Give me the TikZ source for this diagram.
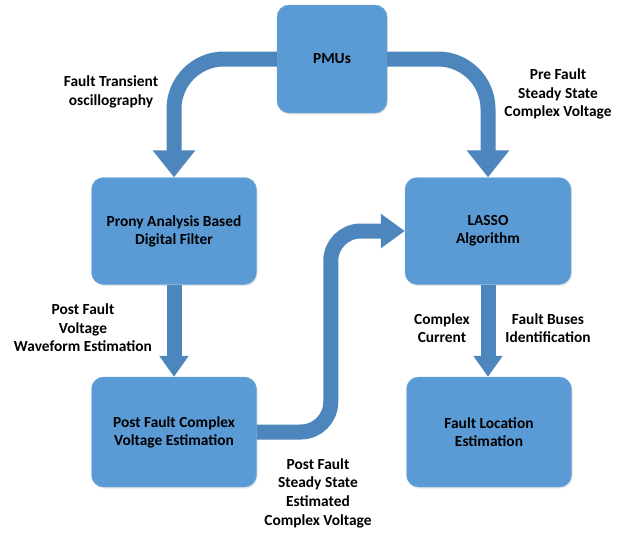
\documentclass[tikz,border=0pt]{standalone}
\usepackage{fontspec}
\setmainfont{Carlito}
\usetikzlibrary{arrows.meta,calc,shadows}
\definecolor{boxblue}{RGB}{91,155,213}
\definecolor{arrblue}{RGB}{77,134,188}

\begin{document}
\begin{tikzpicture}[x=1pt,y=1pt]
			\tikzstyle{bx} = [fill=boxblue, draw=boxblue!85!white, rounded corners=12pt, align=center, inner sep=0pt,
				font=\fontsize{15.4pt}{18pt}\selectfont\bfseries, drop shadow={opacity=0.18, shadow xshift=1pt, shadow yshift=-1.5pt}]
			\tikzstyle{lb} = [align=center, font=\fontsize{15.4pt}{18.6pt}\selectfont\bfseries]
			\tikzstyle{es} = [arrblue, line width=15pt, -{Triangle[width=41pt,length=27pt]}]
			\tikzstyle{ec} = [arrblue, line width=15pt, -{Triangle[width=33pt,length=24pt]}]
			\tikzstyle{ed} = [arrblue, line width=15pt, -{Triangle[width=28pt,length=21pt]}]
			\useasboundingbox (0,0) rectangle (631,-533);
			\node [bx, minimum width=110pt, minimum height=108pt] (v1) at (332,-59) {PMUs};
			\node [bx, minimum width=165pt, minimum height=107pt] (v2) at (174,-231) {Prony Analysis Based\\Digital Filter};
			\node [bx, minimum width=166pt, minimum height=107pt] (v3) at (488,-231) {LASSO\\Algorithm};
			\node [bx, minimum width=165pt, minimum height=110pt] (v4) at (174,-432) {Post Fault Complex\\Voltage Estimation};
			\node [bx, minimum width=165pt, minimum height=110pt] (v5) at (489,-432) {Fault Location\\Estimation};
			\coordinate (v6) at ($(v4.east)!.5!(v3.west)$);
			\draw [es, rounded corners=50pt] (v1.west) -| (v2.north);
			\draw [es, rounded corners=50pt] (v1.east) -| (v3.north);
			\draw [ed] (v2.south) -- (v4.north);
			\draw [ed] (v3.south) -- (v3.south |- v5.north);
			\draw [ec, rounded corners=30pt] (v4.east) -| (v6) |- (v3.west);
			\node [lb] (l1) at (111,-92) {Fault Transient\\oscillography};
			\node [lb] (l2) at (558,-94) {Pre Fault\\Steady State\\Complex Voltage};
			\node [lb] (l3) at (83,-328) {Post Fault\\Voltage\\Waveform Estimation};
			\node [lb] (l4) at (442,-328) {Complex\\Current};
			\node [lb] (l5) at (548,-328) {Fault Buses\\Identification};
			\node [lb] (l6) at (318,-493) {Post Fault\\Steady State\\Estimated\\Complex Voltage};
		\end{tikzpicture}
\end{document}
